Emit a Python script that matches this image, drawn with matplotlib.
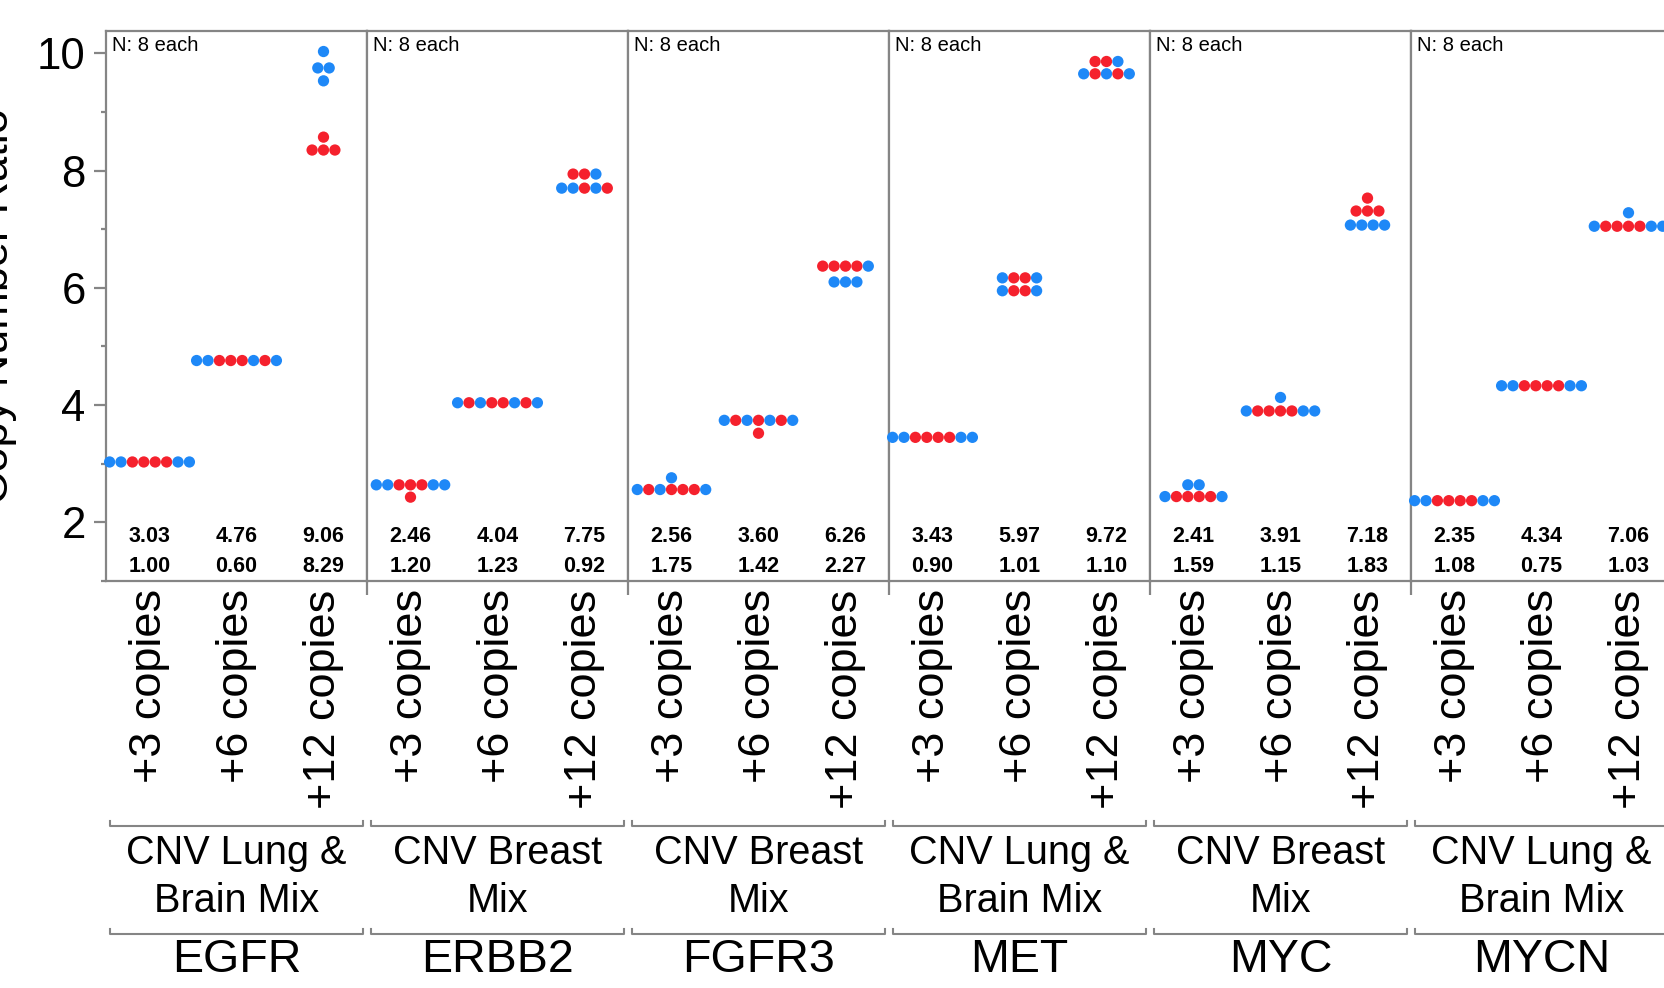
import matplotlib
matplotlib.use("Agg")
import matplotlib.pyplot as plt
from matplotlib.lines import Line2D
from matplotlib.ticker import MultipleLocator, FixedLocator
import numpy as np

plt.rcParams['font.family'] = ['Liberation Sans', 'DejaVu Sans']

genes = ["EGFR", "ERBB2", "FGFR3", "MET", "MYC", "MYCN"]
mixes = ["CNV Lung &\nBrain Mix", "CNV Breast\nMix", "CNV Breast\nMix",
         "CNV Lung &\nBrain Mix", "CNV Breast\nMix", "CNV Lung &\nBrain Mix"]
levels = ["+3 copies", "+6 copies", "+12 copies"]

# copy number ratio of each replicate (8 per group), row by row as in the swarm
egfr_pts = [[3.03, 3.03, 3.03, 3.03, 3.03, 3.03, 3.03, 3.03],
            [4.76, 4.76, 4.76, 4.76, 4.76, 4.76, 4.76, 4.76],
            [10.03, 9.75, 9.75, 9.53, 8.57, 8.35, 8.35, 8.35]]
egfr_cols = ["bbrrrrbb", "bbrrrbrb", "bbbbrrrr"]

erbb2_pts = [[2.64, 2.64, 2.64, 2.64, 2.64, 2.64, 2.64, 2.43],
             [4.04, 4.04, 4.04, 4.04, 4.04, 4.04, 4.04, 4.04],
             [7.94, 7.94, 7.94, 7.70, 7.70, 7.70, 7.70, 7.70]]
erbb2_cols = ["bbrrrbbr", "brbrrbrb", "rrbbbrbr"]

fgfr3_pts = [[2.76, 2.56, 2.56, 2.56, 2.56, 2.56, 2.56, 2.56],
             [3.74, 3.74, 3.74, 3.74, 3.74, 3.74, 3.74, 3.52],
             [6.37, 6.37, 6.37, 6.37, 6.37, 6.10, 6.10, 6.10]]
fgfr3_cols = ["bbrbrrrb", "brbrbrbr", "rrrrbbbb"]

met_pts = [[3.45, 3.45, 3.45, 3.45, 3.45, 3.45, 3.45, 3.45],
           [6.17, 6.17, 6.17, 6.17, 5.95, 5.95, 5.95, 5.95],
           [9.86, 9.86, 9.86, 9.65, 9.65, 9.65, 9.65, 9.65]]
met_cols = ["bbrrrrbb", "brrbbrrb", "rrbbrbrb"]

myc_pts = [[2.64, 2.64, 2.44, 2.44, 2.44, 2.44, 2.44, 2.44],
           [4.13, 3.90, 3.90, 3.90, 3.90, 3.90, 3.90, 3.90],
           [7.53, 7.31, 7.31, 7.31, 7.07, 7.07, 7.07, 7.07]]
myc_cols = ["bbbrrrrb", "bbrrrrbb", "rrrrbbbb"]

mycn_pts = [[2.37, 2.37, 2.37, 2.37, 2.37, 2.37, 2.37, 2.37],
            [4.33, 4.33, 4.33, 4.33, 4.33, 4.33, 4.33, 4.33],
            [7.28, 7.05, 7.05, 7.05, 7.05, 7.05, 7.05, 7.05]]
mycn_cols = ["bbrrrrbb", "bbrrrrbb", "bbrrrrbb"]

means = [[3.03, 4.76, 9.06], [2.46, 4.04, 7.75], [2.56, 3.60, 6.26],
         [3.43, 5.97, 9.72], [2.41, 3.91, 7.18], [2.35, 4.34, 7.06]]
cvs = [[1.00, 0.60, 8.29], [1.20, 1.23, 0.92], [1.75, 1.42, 2.27],
       [0.90, 1.01, 1.10], [1.59, 1.15, 1.83], [1.08, 0.75, 1.03]]

all_pts = [egfr_pts, erbb2_pts, fgfr3_pts, met_pts, myc_pts, mycn_pts]
all_cols = [egfr_cols, erbb2_cols, fgfr3_cols, met_cols, myc_cols, mycn_cols]
colour = {"b": "#1e88f7", "r": "#f5212d"}
frame = "#858585"

W, H = 1664, 988
left_px, panel_px, top_px, bot_px = 106, 261, 31, 581
dot_px = 11.4
step = dot_px / panel_px * 3   # one dot width in data units


def swarm(vals):
    # points with the same value share a row, centred on the category
    xs = np.zeros(len(vals))
    seen = []
    for v in vals:
        if v not in seen:
            seen.append(v)
    for v in seen:
        idx = [j for j, u in enumerate(vals) if u == v]
        xs[idx] = (np.arange(len(idx)) - (len(idx) - 1) / 2) * step
    return xs


fig = plt.figure(figsize=(W / 100, H / 100), dpi=100)

for i, gene in enumerate(genes):
    ax = fig.add_axes([(left_px + i * panel_px) / W, 1 - bot_px / H,
                       panel_px / W, (bot_px - top_px) / H])
    ax.set_xlim(0, 3)
    ax.set_ylim(1.0, 10.38)
    for s in ax.spines.values():
        s.set_color(frame)
        s.set_linewidth(1.6)

    for c in range(3):
        vals = all_pts[i][c]
        xs = swarm(vals)
        ax.scatter(c + 0.5 + xs, vals, s=66, c=[colour[k] for k in all_cols[i][c]],
                   edgecolors="none", zorder=3, clip_on=False)
        ax.text(c + 0.5, 1.76, f"{means[i][c]:.2f}", ha="center", va="center",
                fontsize=15.5, fontweight="bold")
        ax.text(c + 0.5, 1.24, f"{cvs[i][c]:.2f}", ha="center", va="center",
                fontsize=15.5, fontweight="bold")

    ax.annotate("N: 8 each", xy=(0, 1), xycoords="axes fraction", xytext=(4, -3.5),
                textcoords="offset points", ha="left", va="top", fontsize=14.5)

    ax.set_xticks([0.5, 1.5, 2.5])
    ax.set_xticklabels(levels, rotation=90, fontsize=32.5)
    ax.tick_params(axis="x", which="major", length=0, pad=6)
    if i < len(genes) - 1:
        ax.xaxis.set_minor_locator(FixedLocator([3]))
        ax.tick_params(axis="x", which="minor", length=10, width=1.6, color=frame)

    if i == 0:
        ax.yaxis.set_major_locator(MultipleLocator(2))
        ax.yaxis.set_minor_locator(MultipleLocator(1))
        ax.tick_params(axis="y", which="major", length=8.6, width=1.6, color=frame,
                       labelsize=31.5, pad=6)
        ax.tick_params(axis="y", which="minor", length=3.8, width=1.6, color=frame)
    else:
        ax.tick_params(axis="y", which="both", left=False, labelleft=False)

    # group brackets and labels under each panel
    x0 = left_px + i * panel_px + 4
    x1 = left_px + (i + 1) * panel_px - 4
    for yb in (826, 934):
        fig.add_artist(Line2D(np.array([x0, x0, x1, x1]) / W,
                              1 - np.array([yb - 5, yb, yb, yb - 5]) / H,
                              color=frame, lw=1.5))
    cx = (left_px + (i + 0.5) * panel_px) / W
    fig.text(cx, 1 - 877 / H, mixes[i], ha="center", va="center", fontsize=28.5,
             linespacing=1.32)
    fig.text(cx, 1 - 960 / H, gene, ha="center", va="center", fontsize=33.5)

fig.text(-0.002, 1 - 306 / H, "Copy Number Ratio", rotation=90, ha="center",
         va="center", fontsize=32.5)

fig.savefig("out.png", dpi=100)
